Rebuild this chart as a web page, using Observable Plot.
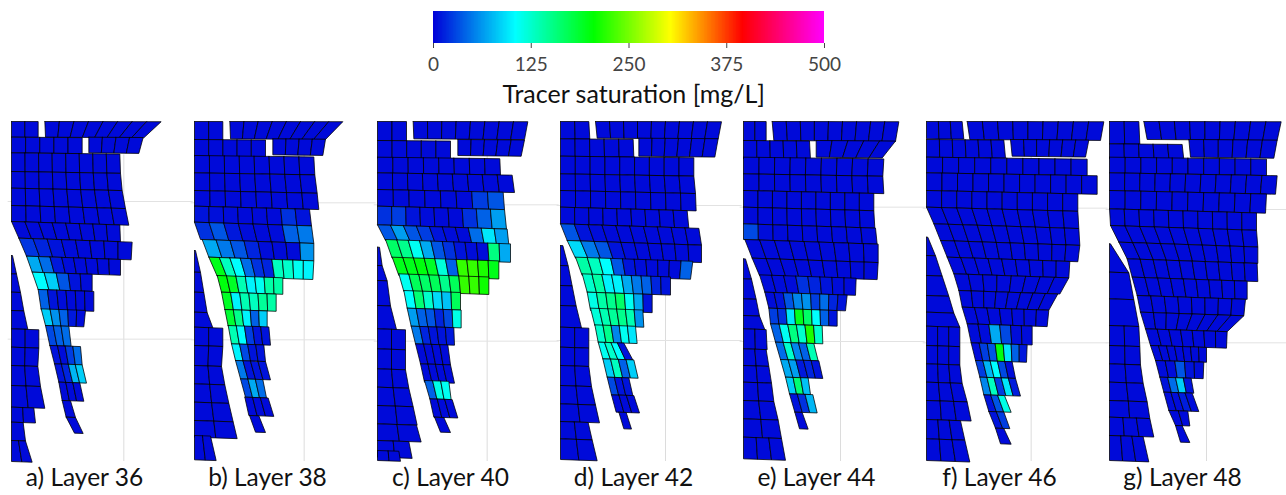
<!DOCTYPE html>
<html><head><meta charset="utf-8">
<script src="https://cdn.jsdelivr.net/npm/d3@7"></script>
<script src="https://cdn.jsdelivr.net/npm/@observablehq/plot@0.6"></script>
<style>html,body{margin:0;padding:0;background:#fff}svg{display:block}</style>
</head><body><div id="chart"></div>
<script>
// Colour legend
const saturationStops = [0,105,205,303,395,500];
const saturationColors = ["#0000d8","#00ffff","#00ff00","#ffff00","#ff0000","#ff00ff"];
const legendTicks = [0,125,250,375,500];
const legendTitle = "Tracer saturation [mg/L]";
const layerNames = ["a) Layer 36","b) Layer 38","c) Layer 40","d) Layer 42","e) Layer 44","f) Layer 46","g) Layer 48"];
// Mesh origin of each layer's section, and its two reference grid lines
const meshOriginX = [33,27,21,15,24,18,27];
const gridX = [370,356,350,330,315,332,318];
const gridY1 = [258,262,268,270,275,278,282];
const gridY2 = [671,673,677,675,678,682,682];
// Mesh rows: [yTop,yBottom,leftTop,leftBottom,rightTop,rightBottom, saturations or count of background cells]
const background = 4;
const layer36 = [
[18,65,33,33,113,113,2],[18,65,133,135,482,430,8],[65,112,33,33,245,245,5],[65,112,265,265,428,415,4],
[112,168,33,33,358,360,8],[168,218,33,33,360,365,8],[218,270,33,33,365,375,8],[270,318,33,33,375,385,8],
[318,368,33,55,358,360,8],[368,422,55,78,395,392,[22,15,8,5,4,4,4,4]],
[422,470,78,95,360,360,[70,45,10,5,4,4,4,4]],[470,522,95,113,275,275,[105,85,35,8,5]],
[522,582,113,122,280,280,[40,8,5,4,4,4]],[580,630,122,135,255,250,[85,60,40,10,5]],
[630,690,135,148,205,212,[30,40,45]],[690,745,148,162,240,245,[8,5,25,45]],
[745,800,162,175,245,258,[8,15,75,85]],[800,855,175,185,238,250,3],[855,905,185,197,210,225,1],[905,953,197,222,225,248,1],
[420,475,33,33,36,48,1],[475,530,33,33,48,60,1],[530,585,33,33,60,70,1],[585,640,33,33,70,82,1],
[640,695,33,33,115,115,2],[695,750,33,33,115,112,2],[750,810,33,33,112,120,2],[810,875,33,33,120,133,2],
[875,920,33,33,100,105,2],[920,975,33,33,68,75,1],[975,1038,33,33,75,95,2]
];
const layer38 = [
[18,72,27,27,112,112,2],[18,70,133,135,472,420,8],[72,122,27,27,240,240,5],[70,118,262,262,420,412,4],
[120,172,27,27,385,388,8],[172,225,27,27,388,395,8],[225,272,27,27,395,400,8],
[272,320,27,27,372,378,[8,6,5,4,4,4,20,8]],[320,372,27,45,378,385,[20,35,10,5,4,5,40,50]],
[372,425,50,70,385,385,[70,50,35,15,5,4,4,60]],
[425,482,70,95,385,382,[195,130,105,45,20,15,130,125,110,100]],
[480,530,95,108,292,292,[200,190,135,100,110,140,140]],[530,582,108,118,272,272,[190,100,135,130,145,140]],
[582,632,118,128,245,245,[185,150,100,40,85]],[630,685,128,138,250,255,[135,105,25,8,8]],
[685,735,138,150,235,240,[100,30,8,8]],[735,790,150,165,240,255,[50,8,8,8]],
[790,845,165,180,232,243,[30,70,45]],[845,900,178,190,248,265,3],[900,950,192,210,220,240,1],
[405,470,27,27,30,45,1],[470,530,27,27,45,55,1],[530,590,27,27,55,65,1],[590,635,27,27,65,82,1],
[635,690,27,27,112,112,2],[690,750,27,27,112,108,2],[750,805,27,27,108,118,2],[805,860,27,27,118,130,2],
[860,915,27,27,130,143,2],[915,965,27,27,143,155,2],[960,1033,27,27,75,92,2]
];
const layer40 = [
[18,75,21,21,108,108,2],[18,70,128,130,472,462,8],[75,128,21,21,240,240,5],[72,120,262,262,462,452,5],
[125,172,21,21,388,390,8],[172,222,21,21,425,432,9],[222,272,21,21,398,402,[4,4,4,4,4,4,25,35]],
[272,328,21,21,402,408,[20,25,8,5,4,4,20,40,65]],
[328,375,21,45,410,415,[35,65,35,25,8,5,4,45,95,65]],
[372,428,45,65,420,420,[165,150,110,70,35,20,8,5,5,155,70]],
[425,480,65,85,385,385,[195,195,200,190,120,40,225,225,215,195]],
[475,528,85,100,355,355,[110,170,165,170,150,170,225,225,210]],
[525,578,100,110,270,270,[105,160,125,90,80,170]],[578,632,110,122,272,272,[65,40,35,15,30,115]],
[632,685,122,135,250,252,[50,15,8,8,10]],[685,745,135,150,232,240,4],[745,800,150,162,240,252,4],
[795,850,162,178,235,242,[40,115,110]],[850,905,178,190,245,262,3],[905,950,192,210,220,240,1],
[395,450,21,21,27,35,1],[450,495,21,21,35,50,1],[495,570,21,21,50,60,1],[570,640,21,21,60,78,1],
[640,700,21,21,105,105,2],[700,760,21,21,105,105,2],[760,815,21,21,105,115,2],[815,870,21,21,115,128,2],
[870,925,21,21,128,140,2],[925,975,21,21,138,152,2],[975,1025,21,21,115,125,2],[1005,1035,21,21,85,90,2]
];
const layer42 = [
[18,70,15,15,100,103,2],[18,68,120,125,498,488,9],[70,122,15,15,233,235,5],[68,122,250,250,488,478,6],
[122,175,15,15,415,415,9],[175,225,15,15,415,420,9],[225,275,15,15,420,422,9],[275,325,15,15,395,400,9],
[325,375,15,35,430,438,[35,8,5,4,4,4,4,4,4,4]],[375,428,35,60,438,438,[90,50,35,8,5,4,4,4,4,4]],
[425,480,60,80,412,405,[140,130,105,35,8,5,4,4,4,40]],
[475,530,80,95,345,345,[125,140,100,100,70,50,40,15,8]],
[530,585,95,105,290,290,[115,140,150,165,110,70,8]],[578,630,105,118,262,265,[120,135,145,150,135,60]],
[628,680,118,128,240,245,[125,150,55,110,95]],[680,730,128,142,205,232,[110,125,105,8]],
[730,785,142,155,235,248,[85,130,40,85]],[785,838,155,168,220,232,[30,8,8]],[838,890,168,182,235,252,3],[890,940,190,205,212,228,1],
[390,450,15,15,22,38,1],[450,510,15,15,38,50,1],[510,570,15,15,50,62,1],[570,635,15,15,62,78,1],
[635,695,15,15,100,100,2],[695,750,15,15,100,100,2],[750,810,15,15,100,108,2],[810,865,15,15,108,120,2],
[865,918,15,15,120,132,2],[918,970,15,15,98,110,2],[970,1032,15,15,110,125,2]
];
const layer44 = [
[18,75,24,24,92,92,2],[18,75,110,115,490,480,9],[75,130,24,24,222,225,5],[75,125,242,242,480,440,5],
[125,175,24,24,445,442,9],[175,225,24,24,442,445,9],[225,275,24,24,415,415,9],[275,325,24,24,415,418,9],
[325,372,24,24,420,425,[30,5,4,4,4,4,4,4,4]],[372,428,28,50,428,428,9],[428,480,50,72,428,425,9],
[478,530,72,88,362,360,[5,5,5,20,15,8,5,4]],
[530,578,88,100,335,330,[5,8,35,55,60,25,45,15,8]],
[578,625,100,105,305,305,[25,20,95,195,165,105,40,8]],
[625,680,105,120,260,262,[40,110,155,125,215,125]],[680,732,120,135,235,248,[45,125,55,40,135]],
[732,785,135,150,250,262,[70,65,10,15,8]],[785,835,150,162,218,225,[85,160,80]],
[835,890,162,178,232,245,[8,20,75]],[890,940,178,192,200,218,1],
[430,490,24,24,30,48,1],[490,550,24,24,48,62,1],[550,600,24,24,62,72,1],[600,640,24,24,72,88,1],
[640,700,24,24,92,95,2],[700,750,24,24,92,100,2],[750,800,24,24,100,108,2],[800,855,24,24,108,115,2],
[855,910,24,24,115,128,2],[910,965,24,24,128,138,2],[965,1030,24,24,138,150,3]
];
const layer46 = [
[18,70,18,18,125,130,3],[18,72,140,148,550,540,9],[72,125,18,18,250,255,6],[72,122,270,275,505,495,6],
[125,172,18,18,500,500,10],[172,225,18,18,530,530,11],[225,275,18,18,472,472,10],[275,325,18,40,472,475,10],
[325,375,40,60,475,478,10],[375,425,60,80,478,472,10],[425,475,80,100,448,445,9],[475,525,100,115,445,418,8],
[525,575,115,125,412,385,8],[575,625,125,140,385,380,7],[625,682,140,152,335,335,[5,5,70,30,5,5]],
[682,735,152,165,320,318,[5,25,35,200,95,40,10]],[735,785,165,178,275,285,[25,75,105,30,5]],
[785,838,178,190,285,300,[55,130,25,95,12]],[838,888,190,205,252,272,[8,35,115]],[888,938,205,225,250,268,[8,25]],[938,985,225,240,250,272,1],
[365,420,18,18,22,45,1],[420,480,18,18,45,65,1],[480,540,18,18,65,85,1],[540,590,18,18,85,100,1],[590,632,18,18,100,118,1],
[632,690,18,18,118,118,3],[690,745,18,18,118,118,3],[745,800,18,18,118,125,3],[800,855,18,18,125,140,3],
[855,912,18,18,140,152,3],[912,970,18,18,120,133,3],[970,1035,18,18,133,148,3]
];
const layer48 = [
[18,85,27,27,115,118,2],[18,72,130,140,542,530,9],[85,130,27,27,245,250,5],[72,125,265,270,530,520,6],
[125,172,27,27,498,498,10],[172,225,27,27,530,525,11],[225,280,27,27,498,495,10],[280,330,27,30,468,468,10],
[330,380,30,55,468,472,10],[380,430,55,80,472,472,10],[430,485,80,95,470,472,10],[485,540,95,110,440,440,9],
[540,590,110,120,435,430,8],[590,640,120,135,430,380,8],[640,690,135,150,380,378,7],[690,735,150,165,318,318,7],
[735,785,165,178,310,308,[5,5,35,8,5]],[785,830,178,190,272,280,[8,45,85,8]],[830,885,190,205,275,295,[5,5,12,5]],
[885,930,205,225,262,268,2],[930,980,225,240,245,268,1],
[385,470,27,27,30,85,1],[470,550,27,27,85,100,1],[550,630,27,27,100,115,1],
[630,690,27,27,115,118,2],[690,745,27,27,118,120,2],[745,800,27,27,120,128,2],[800,855,27,27,128,140,2],
[855,905,27,27,140,148,2],[905,960,27,27,148,160,3],[960,1035,27,27,128,145,3]
];
const layers = [layer36,layer38,layer40,layer42,layer44,layer46,layer48];

const slope = y => Math.min(0.035, y / 10000);
const cells = [];
layers.forEach((rows, p) => {
  const ox = meshOriginX[p];
  rows.forEach((r, ri) => {
    const [y0,y1,l0,l1,r0,r1,vals] = r;
    const list = typeof vals === "number" ? new Array(vals).fill(background) : vals;
    const n = list.length;
    const top = i => { const x = l0+(r0-l0)*i/n; return [x-ox, y0+slope(y0)*(x-l0)-18]; };
    const bot = i => { const x = l1+(r1-l1)*i/n; return [x-ox, y1+slope(y1)*(x-l1)-18]; };
    list.forEach((v,i) => {
      const id = `${p}-${ri}-${i}`;
      [top(i),top(i+1),bot(i+1),bot(i),top(i)].forEach(([x,y]) => cells.push({layer:layerNames[p],id,x,y,v}));
    });
  });
});
const colorScale = {type:"linear", domain:saturationStops, range:saturationColors};
const sans = "Lato, 'Open Sans', sans-serif";

const legend = Plot.plot({
  width:1286, height:121, marginLeft:433, marginRight:462, marginTop:11, marginBottom:78,
  style:{fontFamily:sans, background:"#fff"},
  x:{domain:[0,500]}, color:colorScale,
  marks:[
    Plot.rect(d3.range(0,500,1),{x1:d=>d,x2:d=>Math.min(500,d+1),fill:d=>d,shapeRendering:"crispEdges"}),
    Plot.axisX({ticks:legendTicks,tickFormat:d=>d,tickSize:5,tickPadding:9,fontSize:19,color:"#444",label:null}),
    Plot.text([legendTitle],{x:[256],frameAnchor:"bottom",dy:51,text:d=>d,fontSize:25,fill:"#111",lineAnchor:"middle"})
  ]
});
const chart = Plot.plot({
  width:1286, height:374, marginLeft:11, marginRight:0, marginTop:0, marginBottom:34,
  style:{fontFamily:sans, background:"#fff"},
  x:{domain:[0,531],axis:null}, y:{domain:[0,1020],reverse:true,axis:null},
  fx:{domain:layerNames,paddingInner:6/183,paddingOuter:0,axis:null},
  color:colorScale,
  marks:[
    Plot.ruleX(layerNames,{fx:d=>d,x:(d,i)=>gridX[i]-meshOriginX[i],y1:100,y2:1020,stroke:"#dcdcdc",strokeWidth:1}),
    Plot.ruleY(layerNames,{fx:d=>d,y:(d,i)=>gridY1[i]-18,x1:-10,x2:545,stroke:"#e2e2e2",strokeWidth:1}),
    Plot.ruleY(layerNames,{fx:d=>d,y:(d,i)=>gridY2[i]-18,x1:-10,x2:545,stroke:"#e2e2e2",strokeWidth:1}),
    Plot.line(cells,{fx:"layer",x:"x",y:"y",z:"id",fill:"v",stroke:"#000",strokeWidth:0.9,strokeOpacity:0.85,strokeLinejoin:"miter",curve:"linear"}),
    Plot.text(layerNames,{fx:d=>d,x:219,y:1071,text:d=>d,fontSize:24.5,fill:"#111"})
  ]
});
const root = document.getElementById("chart");
root.append(legend, chart);
</script></body></html>
